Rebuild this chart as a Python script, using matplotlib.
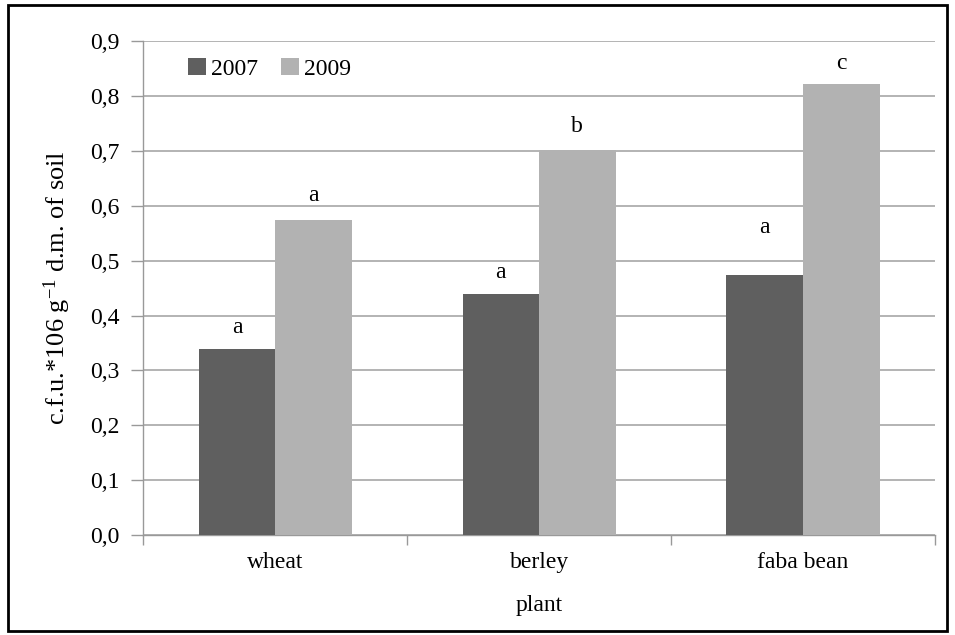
import matplotlib
matplotlib.use("Agg")
import matplotlib.pyplot as plt
from matplotlib.patches import Rectangle
from matplotlib.ticker import FuncFormatter, FixedLocator
import numpy as np

plt.rcParams['font.family'] = ['Liberation Serif', 'DejaVu Serif']
plt.rcParams['mathtext.default'] = 'regular'

categories = ["wheat", "berley", "faba bean"]
series_names = ["2007", "2009"]
values_2007 = [0.339, 0.439, 0.474]
values_2009 = [0.574, 0.701, 0.822]
letters_2007 = ["a", "a", "a"]
letters_2009 = ["a", "b", "c"]
letter_y_2007 = [0.379, 0.479, 0.561]
letter_y_2009 = [0.619, 0.745, 0.86]
yticks = [0.0, 0.1, 0.2, 0.3, 0.4, 0.5, 0.6, 0.7, 0.8, 0.9]

FS = 17

fig = plt.figure(figsize=(9.55, 6.35), dpi=100)
ax = fig.add_axes([0.150, 0.1575, 0.829, 0.7775])

x = np.arange(len(categories))
w = 0.29
c1, c2 = "#5f5f5f", "#b2b2b2"
ax.bar(x - w/2, values_2007, w, color=c1, label=series_names[0], zorder=3)
ax.bar(x + w/2, values_2009, w, color=c2, label=series_names[1], zorder=3)

for i in range(len(categories)):
    ax.text(x[i] - w/2, letter_y_2007[i], letters_2007[i], ha='center', va='center', fontsize=FS)
    ax.text(x[i] + w/2, letter_y_2009[i], letters_2009[i], ha='center', va='center', fontsize=FS)

ax.set_xlim(-0.5, len(categories) - 0.5)
ax.set_ylim(0, 0.9)
ax.set_yticks(yticks)
ax.yaxis.set_major_formatter(FuncFormatter(lambda v, p: f"{v:.1f}".replace('.', ',')))
ax.set_xticks(x)
ax.set_xticklabels(categories, fontsize=FS)
ax.xaxis.set_minor_locator(FixedLocator(np.arange(-0.5, len(categories), 1.0)))
ax.tick_params(axis='x', which='major', length=0, pad=12)
ax.tick_params(axis='x', which='minor', length=7, color='#999999', width=1)
ax.tick_params(axis='y', length=9, color='#999999', width=1, labelsize=FS, pad=8)

ax.grid(axis='y', color='#b3b3b3', linewidth=1.4, zorder=0)
for s in ['top', 'right']:
    ax.spines[s].set_visible(False)
for s in ['left', 'bottom']:
    ax.spines[s].set_color('#999999')
    ax.spines[s].set_linewidth(1)

ax.set_ylabel("c.f.u.*106 g$^{-1}$ d.m. of soil", fontsize=19, labelpad=12)
ax.set_xlabel("plant", fontsize=FS, labelpad=16)

leg = ax.legend(loc='upper left', bbox_to_anchor=(0.045, 0.985), ncol=2, frameon=False,
                fontsize=FS, handlelength=0.75, handleheight=0.75, handletextpad=0.2,
                columnspacing=1.0, borderaxespad=0)

fig.patches.append(Rectangle((0.008, 0.006), 0.984, 0.986, transform=fig.transFigure,
                             fill=False, edgecolor='black', linewidth=2))

fig.savefig("out.png", dpi=100, facecolor='white')
